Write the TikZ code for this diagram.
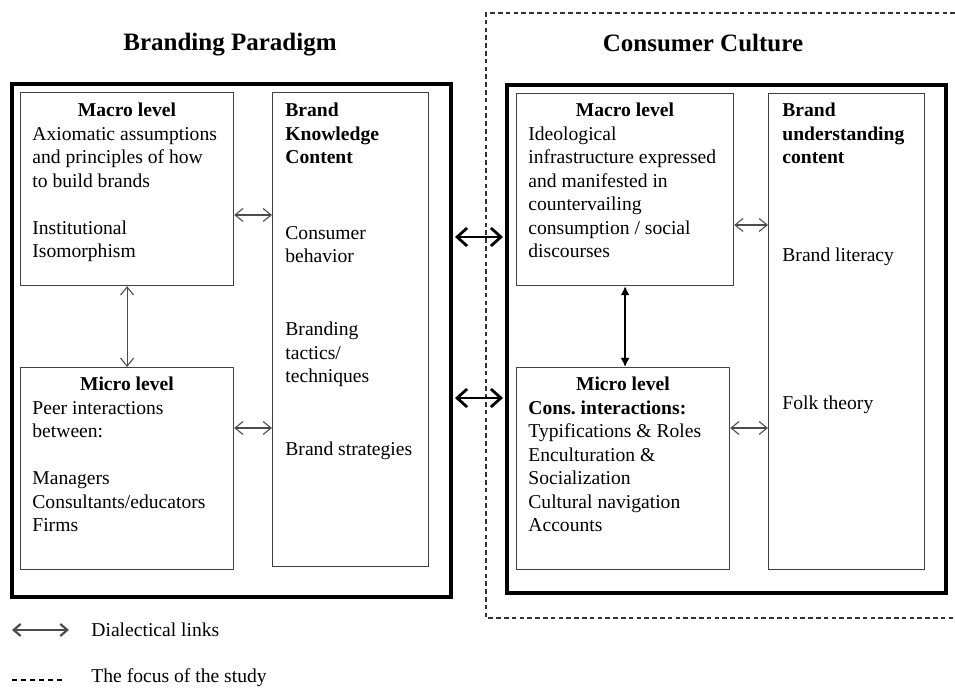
\documentclass[tikz,border=0pt]{standalone}
\usepackage{fontspec}
\setmainfont{Liberation Serif}
\usepackage{xcolor}
\usepackage{tikz}
\usetikzlibrary{positioning, arrows.meta}

\begin{document}
\begin{tikzpicture}[x=0.5pt, y=-0.5pt, >={Straight Barb[length=4pt, width=6.5pt]},
  font=\fontsize{9.8pt}{11.75pt}\selectfont,
  box/.style={draw=black!75, line width=0.6pt, anchor=north west, inner sep=0pt},
  frame/.style={draw=black, line width=2pt, anchor=north west, inner sep=0pt},
  txt/.style={inner sep=0pt, align=left},
  title/.style={font=\fontsize{12.5pt}{14pt}\selectfont\bfseries},
  link/.style={<->, draw=black!70, line width=0.55pt},
  biglink/.style={{Straight Barb[length=5pt, width=9pt]}-{Straight Barb[length=5pt, width=9pt]},
    line width=1.4pt, shorten <=1pt, shorten >=1pt},
  focus/.style={draw=black!80, line width=1.2pt, dash pattern=on 2.3pt off 1.6pt}]
\useasboundingbox (0,0) rectangle (955,689);

% Titulos
\node[title] (bpTitle) at (230,45) {Branding Paradigm};
\node[title] (ccTitle) at (703,43) {Consumer Culture};

% Foco del estudio
\draw[focus] (955,13) -| (486,618) -- (955,618);

% Marcos
\node[frame, minimum width=219.5pt, minimum height=256.5pt] (lpOuter) at (10,82) {};
\node[frame, minimum width=219.5pt, minimum height=254pt] (rOuter) at (505,83) {};

% Cajas izquierda
\node[box, minimum width=106.5pt, minimum height=96.5pt] (lMac) at (20,92) {};
\node[box, minimum width=78pt, minimum height=237pt] (lKnow) at (272,92) {};
\node[box, minimum width=106.5pt, minimum height=101pt] (lMic) at (20,367) {};

% Cajas derecha
\node[box, minimum width=108.5pt, minimum height=96pt] (rMac) at (516,93) {};
\node[box, minimum width=78pt, minimum height=238pt] (rUnd) at (768,93) {};
\node[box, minimum width=106.5pt, minimum height=101pt] (rMic) at (516,367) {};

% Textos izquierda
\node[txt, below right=5.5pt and 6pt of lMac.north west] (lMacTxt)
  {\makebox[94.5pt]{\textbf{Macro level}}\\
   Axiomatic assumptions\\
   and principles of how\\
   to build brands\\[\baselineskip]
   Institutional\\
   Isomorphism};
\node[txt, below right=5.5pt and 6.5pt of lKnow.north west] (lKnowTxt)
  {\textbf{Brand}\\
   \textbf{Knowledge}\\
   \textbf{Content}\\[2.2\baselineskip]
   Consumer\\
   behavior\\[2.1\baselineskip]
   Branding\\
   tactics/\\
   techniques\\[2.1\baselineskip]
   Brand strategies};
\node[txt, below right=5pt and 6pt of lMic.north west] (lMicTxt)
  {\makebox[94.5pt]{\textbf{Micro level}}\\
   Peer interactions\\
   between:\\[\baselineskip]
   Managers\\
   Consultants/educators\\
   Firms};

% Textos derecha
\node[txt, below right=5pt and 6pt of rMac.north west] (rMacTxt)
  {\makebox[96.5pt]{\textbf{Macro level}}\\
   Ideological\\
   infrastructure expressed\\
   and manifested in\\
   countervailing\\
   consumption / social\\
   discourses};
\node[txt, below right=5pt and 7pt of rUnd.north west] (rUndTxt)
  {\textbf{Brand}\\
   \textbf{understanding}\\
   \textbf{content}\\[3.15\baselineskip]
   Brand literacy\\[5.3\baselineskip]
   Folk theory};
\node[txt, below right=5pt and 6pt of rMic.north west] (rMicTxt)
  {\makebox[94.5pt]{\textbf{Micro level}}\\
   \textbf{Cons.\ interactions:}\\
   Typifications \& Roles\\
   Enculturation \&\\
   Socialization\\
   Cultural navigation\\
   Accounts};

% Enlaces
\draw[link] (lMac.east |- 0,215) -- (lKnow.west |- 0,215);
\draw[link] (lMic.east |- 0,428) -- (lKnow.west |- 0,428);
\draw[link] (lMac.south) -- (lMic.north);
\draw[link] (rMac.east |- 0,225) -- (rUnd.west |- 0,225);
\draw[link] (rMic.east |- 0,428) -- (rUnd.west |- 0,428);
\draw[{Latex[length=4.5pt, width=4.5pt]}-{Latex[length=4.5pt, width=4.5pt]}, line width=0.8pt]
  (rMac.south) -- (rMac.south |- rMic.north);
\draw[biglink] (lpOuter.east |- 0,237) -- (rOuter.west |- 0,237);
\draw[biglink] (lpOuter.east |- 0,398) -- (rOuter.west |- 0,398);

% Leyenda
\coordinate (legA1) at (12,630);
\coordinate (legA2) at (69,630);
\coordinate (legD1) at (12,680);
\coordinate (legD2) at (62,680);
\draw[{Straight Barb[length=3.5pt, width=6pt]}-{Straight Barb[length=3.5pt, width=6pt]},
  draw=black!70, line width=1.1pt] (legA1) -- (legA2);
\draw[draw=black, line width=0.6pt, dash pattern=on 2.5pt off 2pt] (legD1) -- (legD2);
\node[anchor=west, inner sep=0pt] (legT1) at (91,630) {Dialectical links};
\node[anchor=west, inner sep=0pt] (legT2) at (91,678) {The focus of the study};
\end{tikzpicture}
\end{document}
